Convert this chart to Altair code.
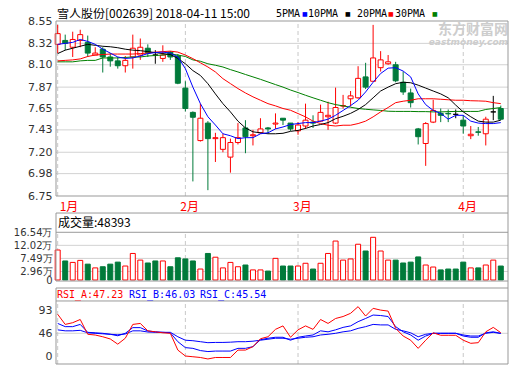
import altair as alt
import pandas as pd

# ---------------- data ----------------
opens = [8.31, 8.35, 8.28, 8.35, 8.33, 8.20, 8.26, 8.18, 8.14, 8.09,
         8.18, 8.20, 8.27, 8.20, 8.165, 8.23, 8.19, 7.86, 7.61, 7.32,
         7.50, 7.34, 7.23, 7.15, 7.30, 7.45, 7.37, 7.40, 7.45, 7.49,
         7.55, 7.50, 7.42, 7.47, 7.51, 7.52, 7.565, 7.50, 7.675, 7.75,
         7.76, 7.975, 7.93, 8.07, 8.11, 8.10, 7.92, 7.81, 7.44, 7.29,
         7.51, 7.60, 7.60, 7.59, 7.53, 7.37, 7.41, 7.39, 7.615, 7.65]
closes = [8.42, 8.32, 8.36, 8.41, 8.22, 8.22, 8.18, 8.14, 8.09, 8.145,
          8.27, 8.28, 8.22, 8.20, 8.20, 8.18, 7.91, 7.65, 7.56, 7.55,
          7.34, 7.35, 7.35, 7.30, 7.35, 7.36, 7.38, 7.44, 7.44, 7.50,
          7.53, 7.44, 7.48, 7.53, 7.50, 7.61, 7.58, 7.66, 7.68, 7.78,
          7.96, 7.87, 8.17, 8.15, 8.13, 7.935, 7.82, 7.71, 7.36, 7.495,
          7.63, 7.58, 7.595, 7.59, 7.47, 7.385, 7.405, 7.54, 7.615, 7.54]
highs = [8.51, 8.41, 8.44, 8.46, 8.40, 8.28, 8.28, 8.22, 8.18, 8.19,
         8.41, 8.37, 8.31, 8.25, 8.30, 8.24, 8.21, 7.93, 7.62, 7.70,
         7.52, 7.40, 7.39, 7.34, 7.50, 7.53, 7.43, 7.55, 7.46, 7.60,
         7.55, 7.50, 7.51, 7.70, 7.58, 7.69, 7.72, 7.865, 7.79, 7.83,
         8.085, 8.12, 8.51, 8.24, 8.20, 8.13, 8.03, 7.855, 7.45, 7.51,
         7.74, 7.65, 7.64, 7.64, 7.58, 7.47, 7.46, 7.565, 7.78, 7.68]
lows = [8.22, 8.25, 8.18, 8.28, 8.18, 8.20, 8.02, 8.08, 8.06, 8.02,
        8.06, 8.15, 8.18, 8.11, 8.13, 8.15, 7.90, 7.62, 6.90, 7.31,
        6.81, 7.10, 7.20, 6.99, 7.28, 7.19, 7.27, 7.39, 7.39, 7.44,
        7.48, 7.42, 7.38, 7.44, 7.45, 7.51, 7.43, 7.49, 7.65, 7.67,
        7.75, 7.85, 7.93, 8.03, 8.10, 7.92, 7.79, 7.66, 7.28, 7.06,
        7.50, 7.51, 7.51, 7.55, 7.39, 7.335, 7.37, 7.27, 7.53, 7.53]
volumes = [10.4, 6.6, 6.1, 6.8, 5.5, 4.2, 4.6, 5.5, 6.2, 4.85,
           9.2, 6.9, 5.9, 6.6, 6.6, 4.6, 7.7, 7.3, 6.6, 3.8,
           9.2, 7.9, 4.2, 6.1, 4.6, 5.2, 3.5, 3.5, 3.1, 7.5,
           4.85, 4.85, 4.85, 5.8, 3.8, 5.8, 9.2, 13.5, 6.9, 7.3,
           12.4, 10.05, 14.8, 10.05, 6.9, 6.9, 5.9, 6.2, 8.0, 5.2,
           4.5, 3.5, 3.8, 3.8, 6.2, 4.2, 4.2, 5.2, 6.9, 4.84]
ma5 = [8.31, 8.32, 8.33, 8.36, 8.34, 8.31, 8.26, 8.22, 8.18, 8.165,
       8.17, 8.19, 8.215, 8.225, 8.23, 8.22, 8.18, 8.06, 7.87, 7.70,
       7.565, 7.48, 7.39, 7.37, 7.34, 7.35, 7.35, 7.39, 7.40, 7.44,
       7.46, 7.485, 7.495, 7.505, 7.505, 7.52, 7.54, 7.58, 7.63, 7.68,
       7.735, 7.82, 7.92, 8.01, 8.065, 8.07, 8.035, 7.975, 7.80, 7.69,
       7.63, 7.60, 7.54, 7.58, 7.58, 7.52, 7.50, 7.495, 7.495, 7.505]
ma10 = [8.215, 8.25, 8.27, 8.29, 8.31, 8.30, 8.29, 8.285, 8.275, 8.26,
        8.25, 8.245, 8.235, 8.225, 8.215, 8.205, 8.165, 8.11, 8.04, 7.99,
        7.905, 7.80, 7.70, 7.615, 7.52, 7.45, 7.41, 7.40, 7.39, 7.39,
        7.395, 7.415, 7.425, 7.445, 7.47, 7.485, 7.505, 7.545, 7.57, 7.60,
        7.64, 7.69, 7.76, 7.83, 7.87, 7.905, 7.92, 7.915, 7.89, 7.86,
        7.83, 7.80, 7.76, 7.685, 7.615, 7.565, 7.52, 7.51, 7.51, 7.53]
ma20 = [8.14, 8.145, 8.15, 8.16, 8.185, 8.20, 8.205, 8.21, 8.21, 8.21,
        8.21, 8.215, 8.22, 8.23, 8.235, 8.24, 8.23, 8.20, 8.163, 8.12,
        8.077, 8.026, 7.957, 7.906, 7.855, 7.81, 7.77, 7.735, 7.70, 7.677,
        7.65, 7.632, 7.598, 7.564, 7.52, 7.495, 7.478, 7.47, 7.478, 7.478,
        7.495, 7.52, 7.564, 7.615, 7.66, 7.71, 7.725, 7.735, 7.75, 7.75,
        7.75, 7.745, 7.74, 7.735, 7.735, 7.73, 7.728, 7.725, 7.71, 7.70]
ma30 = [8.13, 8.13, 8.13, 8.14, 8.145, 8.145, 8.17, 8.17, 8.17, 8.175,
        8.18, 8.18, 8.19, 8.195, 8.20, 8.21, 8.20, 8.185, 8.15, 8.136,
        8.11, 8.095, 8.077, 8.05, 8.026, 8.00, 7.975, 7.95, 7.923, 7.896,
        7.87, 7.84, 7.814, 7.786, 7.76, 7.735, 7.71, 7.69, 7.677, 7.663,
        7.65, 7.642, 7.636, 7.63, 7.622, 7.62, 7.62, 7.62, 7.618, 7.618,
        7.615, 7.615, 7.618, 7.62, 7.62, 7.62, 7.62, 7.64, 7.65, 7.66]
rsi_a = [84.5, 64, 67.5, 74, 44, 42.5, 39, 34.5, 24, 36,
         64, 66, 51, 49, 47, 46, 12, 0, -1.5, -3,
         -6, -3, -3, -3, 12, 12, 19, 35, 39, 54,
         61, 38, 53, 61, 54, 74, 66, 76, 80, 86.5,
         100, 81, 96.6, 93, 91, 56, 40.5, 32, 15.5, 32,
         47, 42, 42, 42, 32, 25.7, 27, 49, 58, 47.23]
rsi_b = [66, 59.5, 59.5, 64, 48, 47, 46, 44, 41, 46,
         57.5, 57.5, 50.7, 49, 48, 47, 29, 17, 15.5, 11,
         9, 10, 10, 10, 15.5, 15.5, 19, 33, 36, 38,
         38, 32, 38, 40.5, 42.6, 51, 49, 53, 58, 61,
         69.6, 76, 83, 82, 80, 59.5, 49, 42.6, 32, 40.5,
         46, 46, 46, 46, 40.5, 38, 38, 47, 49, 46.03]
rsi_c = [53, 51, 51, 52, 47, 46, 45, 44, 43, 44.6,
         51, 51, 48.6, 48, 48, 48, 39, 32, 31, 29,
         27, 27.5, 27.5, 28, 29, 29, 30, 32, 34, 36,
         36, 34, 36, 38, 39, 42.6, 44, 46, 49, 51,
         56, 59.5, 64, 63, 63, 54, 51, 47, 39, 44,
         46, 46, 46, 46, 42.6, 40.5, 40.5, 46, 48, 45.54]
month_idx = [0, 17, 32, 54]
month_names = ["1月", "2月", "3月", "4月"]
price_ticks = [6.75, 6.98, 7.20, 7.43, 7.65, 7.87, 8.10, 8.32, 8.55]
vol_ticks = [0, 2.96, 7.49, 12.02, 16.54]
rsi_ticks = [0, 46, 93]
ma_names = ["5PMA", "10PMA", "20PMA", "30PMA"]
title_text = "雪人股份[002639] 2018-04-11 15:00"
vol_title = "成交量:48393"
rsi_titles = ["RSI_A:47.23", "RSI_B:46.03", "RSI_C:45.54"]

# ---------------- styles / layout ----------------
RED = "#ff0000"
GREEN = "#007a3a"
BLACK = "#000000"
BLUE = "#0000ff"
MAGREEN = "#008000"
WHITE = "#ffffff"
GRID = "#d2d2d2"
BORDER = "#999999"
DASH = "#c8c8c8"
ma_colors = [BLUE, BLACK, RED, MAGREEN]
rsi_colors = [RED, BLUE, BLUE]
W = 452
HALF = 0.333
XDOM = [-0.226, 59.96]
PDOM = [6.75, 8.55]
VDOM = [-2.77, 29.12]
RDOM = [-16.2, 137.8]
PANELS = {
    "top": dict(dom=PDOM, h=175, ax=dict(values=price_ticks, format=".2f", labelFontSize=11)),
    "vol": dict(dom=VDOM, h=92, ax=dict(values=vol_ticks, labelFontSize=10,
                                        labelExpr="datum.value == 0 ? '0' : format(datum.value, '.2f') + '万'")),
    "rsi": dict(dom=RDOM, h=76, ax=dict(values=rsi_ticks, format="d", labelFontSize=11)),
}

n = len(opens)
kind, vkind = [], []
for i in range(n):
    if closes[i] > opens[i]:
        k = "up"
    elif closes[i] < opens[i]:
        k = "down"
    else:
        k = "flat"
    kind.append(k)
    if k == "flat":
        prev = closes[i - 1] if i else opens[i]
        vkind.append("up" if closes[i] >= prev else "down")
    else:
        vkind.append(k)

df = pd.DataFrame(dict(i=list(range(n)), o=opens, c=closes, h=highs, l=lows, k=kind, vk=vkind,
                       vol=volumes, zero=[0.0] * n))
df["xl"] = df["i"] - HALF
df["xr"] = df["i"] + HALF
KSTYLE = {"up": (WHITE, RED), "down": (GREEN, GREEN), "flat": (BLACK, BLACK)}


def XQ(field="i"):
    return alt.X(f"{field}:Q", scale=alt.Scale(domain=XDOM, nice=False, zero=False), axis=None)


def YQ(field, p):
    cfg = PANELS[p]
    return alt.Y(f"{field}:Q", scale=alt.Scale(domain=cfg["dom"], nice=False, zero=False),
                 axis=alt.Axis(title=None, ticks=False, domain=False, grid=False, labelFont="DejaVu Sans",
                               labelColor="#333333", labelPadding=4, labelOverlap=False,
                               labelFlush=False, **cfg["ax"]))


def px_x(px):
    return XDOM[0] + px / W * (XDOM[1] - XDOM[0])


def px_y(py, p):
    d, h = PANELS[p]["dom"], PANELS[p]["h"]
    return d[1] - py / h * (d[1] - d[0])


def hrules(vals, p, color):
    d = pd.DataFrame({"v": vals, "x0": XDOM[0], "x1": XDOM[1]})
    return alt.Chart(d).mark_rule(color=color, strokeWidth=1).encode(
        x=XQ("x0"), x2=alt.X2("x1"), y=YQ("v", p))


def vrules(xs, y0, y1, p, color, dash=None):
    d = pd.DataFrame({"x": xs, "y0": y0, "y1": y1})
    kw = {"strokeDash": dash} if dash else {}
    return alt.Chart(d).mark_rule(color=color, strokeWidth=1, **kw).encode(
        x=XQ("x"), y=YQ("y0", p), y2=alt.Y2("y1"))


def label(text, px, py, p, color="#000000", size=12, font="Noto Sans CJK SC", align="left", **kw):
    d = pd.DataFrame({"t": [text], "x": [px_x(px)], "y": [px_y(py, p)]})
    return alt.Chart(d).mark_text(color=color, fontSize=size, font=font, align=align,
                                  baseline="middle", **kw).encode(x=XQ("x"), y=YQ("y", p), text="t:N")


def line(vals, color, p):
    d = pd.DataFrame({"i": list(range(len(vals))), "v": vals})
    return alt.Chart(d).mark_line(color=color, strokeWidth=1).encode(x=XQ(), y=YQ("v", p))


def candles():
    out = []
    for k, (fl, st) in KSTYLE.items():
        sub = df[df["k"] == k]
        if len(sub):
            out.append(alt.Chart(sub).mark_rule(color=st, strokeWidth=1).encode(
                x=XQ(), y=YQ("l", "top"), y2=alt.Y2("h")))
    for k, (fl, st) in KSTYLE.items():
        sub = df[df["k"] == k]
        if len(sub):
            out.append(alt.Chart(sub).mark_rect(fill=fl, stroke=st, strokeWidth=1).encode(
                x=XQ("xl"), x2=alt.X2("xr"), y=YQ("o", "top"), y2=alt.Y2("c")))
    return out


def vol_bars():
    out = []
    for k, (fl, st) in KSTYLE.items():
        sub = df[df["vk"] == k]
        if len(sub):
            out.append(alt.Chart(sub).mark_rect(fill=fl, stroke=st, strokeWidth=1).encode(
                x=XQ("xl"), x2=alt.X2("xr"), y=YQ("vol", "vol"), y2=alt.Y2("zero")))
    return out


# ---------------- top panel ----------------
top_layers = [
    hrules(price_ticks[1:-1], "top", GRID),
    vrules(month_idx, PDOM[0], PDOM[1], "top", DASH, dash=[4, 3]),
    label("东方财富网", W, 8.5, "top", color="#cdcdcd", size=14, align="right", fontWeight="bold"),
    label("eastmoney.com", W, 21, "top", color="#cdcdcd", size=9, font="DejaVu Sans", align="right",
          fontWeight="bold", fontStyle="italic"),
    *candles(),
    *[line(v, c, "top") for v, c in zip([ma30, ma20, ma10, ma5], [MAGREEN, RED, BLACK, BLUE])],
    hrules(PDOM, "top", BORDER),
    vrules(XDOM, PDOM[0], PDOM[1], "top", BORDER),
    label(title_text, 1, -7, "top", size=12),
]
for name, col, lx, sx in zip(ma_names, ma_colors, [220, 252, 301, 339], [246, 289, 332, 376]):
    top_layers.append(label(name, lx, -7, "top", size=10, font="DejaVu Sans Mono"))
    top_layers.append(label("■", sx, -7, "top", color=col, size=6, font="DejaVu Sans"))
top = alt.layer(*top_layers).properties(width=W, height=PANELS["top"]["h"])

# ---------------- volume panel ----------------
months_first = pd.DataFrame({"t": month_names[:1], "x": month_idx[:1], "y": [px_y(11, "vol")]})
months_rest = pd.DataFrame({"t": month_names[1:], "x": month_idx[1:], "y": [px_y(11, "vol")] * 3})
vol_layers = [
    hrules(vol_ticks[1:4], "vol", GRID),
    vrules(month_idx, 0.0, 16.54, "vol", DASH, dash=[4, 3]),
    *vol_bars(),
    hrules([23.22, 16.54, -0.35], "vol", BORDER),
    vrules([XDOM[0]], -0.35, 23.22, "vol", BORDER),
    vrules([XDOM[1]], VDOM[0], VDOM[1], "vol", BORDER),
    alt.Chart(months_first).mark_text(color=RED, fontSize=12, font="Noto Sans CJK SC", align="left",
                                      baseline="middle", dx=2).encode(x=XQ("x"), y=YQ("y", "vol"), text="t:N"),
    alt.Chart(months_rest).mark_text(color=RED, fontSize=12, font="Noto Sans CJK SC", align="left",
                                     baseline="middle", dx=-5).encode(x=XQ("x"), y=YQ("y", "vol"), text="t:N"),
    label(vol_title, 2, 26.5, "vol", size=12),
]
vol = alt.layer(*vol_layers).properties(width=W, height=PANELS["vol"]["h"])

# ---------------- RSI panel ----------------
rsi_layers = [
    hrules([46], "rsi", GRID),
    vrules(month_idx, -16.2, 111.5, "rsi", DASH, dash=[4, 3]),
    *[line(v, c, "rsi") for v, c in zip([rsi_c, rsi_b, rsi_a], [BLUE, BLUE, RED])],
    hrules([RDOM[1], 111.5, RDOM[0]], "rsi", BORDER),
    vrules(XDOM, RDOM[0], RDOM[1], "rsi", BORDER),
]
for t, px, c in zip(rsi_titles, [1, 73, 144], rsi_colors):
    rsi_layers.append(label(t, px, 6.5, "rsi", color=c, size=10, font="DejaVu Sans Mono"))
rsi = alt.layer(*rsi_layers).properties(width=W, height=PANELS["rsi"]["h"])

chart = alt.vconcat(top, vol, rsi, spacing=0, bounds="flush").resolve_scale(y="independent").properties(
    padding={"left": 5, "top": 0, "right": 0, "bottom": 0},
    background="#ffffff",
).configure_view(stroke=None)

chart.save("out.html", embed_options={"renderer": "svg", "actions": False})
